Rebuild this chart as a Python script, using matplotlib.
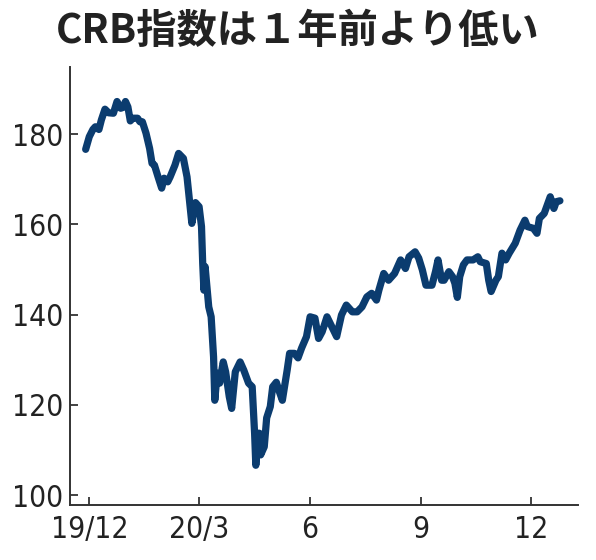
import matplotlib
matplotlib.use("Agg")
import matplotlib.pyplot as plt
from matplotlib import font_manager
import pandas as pd

title = "CRB指数は１年前より低い"

dates = ["2019-11-28", "2019-12-01", "2019-12-04", "2019-12-06", "2019-12-09", "2019-12-11", "2019-12-14", "2019-12-17", "2019-12-21", "2019-12-24",
         "2019-12-27", "2019-12-29", "2019-12-31", "2020-01-02", "2020-01-04", "2020-01-06", "2020-01-10", "2020-01-12", "2020-01-14", "2020-01-17",
         "2020-01-20", "2020-01-22", "2020-01-24", "2020-01-27", "2020-01-30", "2020-02-01", "2020-02-04", "2020-02-06", "2020-02-10", "2020-02-13",
         "2020-02-17", "2020-02-20", "2020-02-22", "2020-02-24", "2020-02-27", "2020-03-01", "2020-03-03", "2020-03-04", "2020-03-05", "2020-03-06",
         "2020-03-07", "2020-03-09", "2020-03-11", "2020-03-13", "2020-03-14", "2020-03-16", "2020-03-18", "2020-03-21", "2020-03-23", "2020-03-26",
         "2020-03-28", "2020-03-31", "2020-04-04", "2020-04-07", "2020-04-11", "2020-04-14", "2020-04-16", "2020-04-17", "2020-04-19", "2020-04-20",
         "2020-04-21", "2020-04-24", "2020-04-26", "2020-04-29", "2020-05-01", "2020-05-04", "2020-05-06", "2020-05-09", "2020-05-13", "2020-05-15",
         "2020-05-19", "2020-05-22", "2020-05-25", "2020-05-29", "2020-06-01", "2020-06-05", "2020-06-08", "2020-06-11", "2020-06-15", "2020-06-19",
         "2020-06-23", "2020-06-27", "2020-07-01", "2020-07-06", "2020-07-10", "2020-07-14", "2020-07-18", "2020-07-22", "2020-07-26", "2020-07-28",
         "2020-08-01", "2020-08-05", "2020-08-10", "2020-08-15", "2020-08-19", "2020-08-22", "2020-08-27", "2020-08-30", "2020-09-02", "2020-09-05",
         "2020-09-10", "2020-09-13", "2020-09-15", "2020-09-18", "2020-09-20", "2020-09-24", "2020-09-27", "2020-09-29", "2020-10-01", "2020-10-03",
         "2020-10-06", "2020-10-09", "2020-10-12", "2020-10-14", "2020-10-18", "2020-10-20", "2020-10-25", "2020-10-27", "2020-10-29", "2020-11-02",
         "2020-11-04", "2020-11-07", "2020-11-10", "2020-11-13", "2020-11-18", "2020-11-22", "2020-11-26", "2020-11-28", "2020-12-03", "2020-12-06",
         "2020-12-08", "2020-12-12", "2020-12-17", "2020-12-20", "2020-12-22", "2020-12-25"]

crb = [176.6, 179.4, 181.0, 181.6, 181.0, 183.1, 185.5, 184.7, 184.6, 187.2,
       185.7, 185.9, 187.2, 186.0, 182.9, 183.5, 183.5, 182.7, 182.7, 180.2,
       176.8, 173.5, 173.1, 170.5, 168.0, 170.2, 169.4, 170.5, 173.1, 175.7,
       174.6, 170.5, 165.4, 160.2, 164.8, 163.9, 159.5, 151.3, 145.4, 150.6,
       147.6, 141.7, 139.5, 130.6, 121.0, 127.0, 124.8, 129.5, 127.3, 121.8,
       119.2, 127.3, 129.5, 127.7, 124.8, 124.0, 113.7, 106.6, 113.7, 113.7,
       108.9, 110.7, 117.1, 119.6, 124.0, 125.0, 123.3, 121.0, 127.7, 131.4,
       131.4, 130.4, 132.6, 135.1, 139.5, 139.2, 134.7, 136.2, 139.5, 137.3,
       135.1, 139.9, 142.1, 140.6, 140.6, 141.7, 143.9, 144.7, 143.2, 145.4,
       149.1, 147.6, 149.1, 152.1, 150.2, 152.8, 153.9, 152.5, 149.9, 146.5,
       146.5, 149.6, 152.1, 147.6, 147.6, 149.5, 148.4, 146.9, 143.8, 148.4,
       151.0, 152.1, 152.1, 152.1, 152.8, 151.7, 151.3, 147.6, 145.1, 147.6,
       148.4, 153.6, 152.1, 153.6, 155.8, 158.7, 160.9, 159.5, 159.1, 158.0,
       161.3, 162.4, 166.1, 163.5, 165.0, 165.2]

xtick_dates = ["2019-12-01", "2020-03-01", "2020-06-01", "2020-09-01", "2020-12-01"]
xtick_labels = ["19/12", "20/3", "6", "9", "12"]
yticks = [100, 120, 140, 160, 180]

# font for tick labels: prefer a narrow/condensed face
tick_fp = None
for f in font_manager.fontManager.ttflist:
    fn = f.fname.lower()
    if ("narrow" in fn or "condensed" in fn) and "bold" not in fn and "italic" not in fn and "oblique" not in fn:
        tick_fp = font_manager.FontProperties(fname=f.fname)
        break
if tick_fp is None:
    tick_fp = font_manager.FontProperties(family="DejaVu Sans")
tick_fp.set_size(21.5)

x = pd.to_datetime(dates)

fig = plt.figure(figsize=(5.96, 5.6), dpi=100)
fig.patch.set_facecolor("white")
ax = fig.add_axes([0.1174, 0.0982, 0.8524, 0.7822])

ax.plot(x, crb, color="#0b3c6f", linewidth=5.2, solid_joinstyle="round", solid_capstyle="round")

ax.set_ylim(97.8, 194.85)
ax.set_xlim(pd.Timestamp("2019-11-15"), pd.Timestamp("2021-01-09"))

ax.set_yticks(yticks)
ax.set_yticklabels([str(v) for v in yticks])
ax.set_xticks(pd.to_datetime(xtick_dates))
ax.set_xticklabels(xtick_labels)

for lab in ax.get_yticklabels() + ax.get_xticklabels():
    lab.set_fontproperties(tick_fp)
    lab.set_color("#222222")

ax.tick_params(axis="both", direction="in", length=6, width=1.3, color="#333333")
ax.tick_params(axis="y", pad=5)
ax.tick_params(axis="x", pad=7)

for s in ["top", "right"]:
    ax.spines[s].set_visible(False)
for s in ["left", "bottom"]:
    ax.spines[s].set_color("#333333")
    ax.spines[s].set_linewidth(1.4)

fig.text(0.5, 0.944, title, ha="center", va="center", fontsize=29, fontweight="bold",
         family=["Noto Sans CJK JP", "DejaVu Sans"], color="#222222")

fig.savefig("out.png", dpi=100, facecolor="white")
